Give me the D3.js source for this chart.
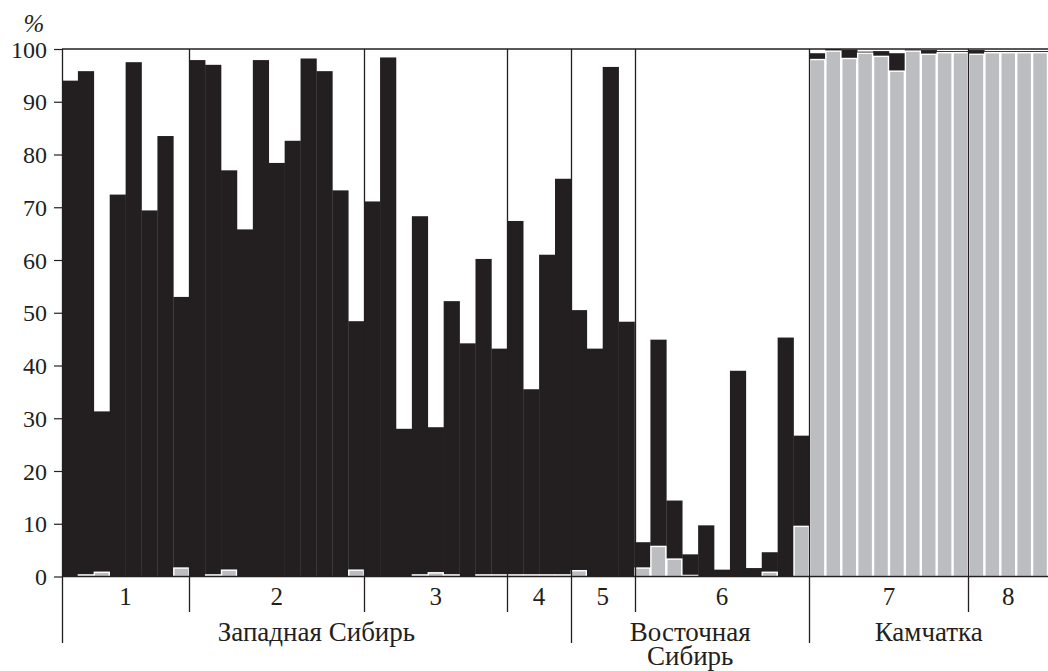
<!DOCTYPE html>
<html>
<head>
<meta charset="utf-8">
<script src="https://cdn.jsdelivr.net/npm/d3@7"></script>
<style>
  body { margin: 0; background: #fff; }
  text { font-family: "Liberation Serif", "DejaVu Serif", serif; fill: #231f20; }
</style>
</head>
<body>
<script>
// groups of samples
var groupNames = ["1", "2", "3", "4", "5", "6", "7", "8"];
var groupSizes = [8, 11, 9, 4, 4, 11, 10, 5];
// regions, as number of groups in each
var regionNames = [["Западная Сибирь"], ["Восточная", "Сибирь"], ["Камчатка"]];
var regionGroups = [4, 2, 2];

// gray share (bottom) and gray+black total, in %
var grayVals = [
  0, 0.3, 0.8, 0, 0, 0, 0, 1.6,
  0, 0.3, 1.2, 0, 0, 0, 0, 0, 0, 0, 1.2,
  0, 0, 0, 0.3, 0.7, 0.3, 0, 0.3, 0.3,
  0.3, 0.3, 0.3, 0.3,
  1.1, 0, 0, 0,
  1.6, 5.7, 3.3, 0.2, 0, 0, 0, 0, 0.8, 0, 9.5,
  98.0, 99.6, 98.2, 99.2, 98.6, 95.8, 99.6, 99.0, 99.3, 99.3,
  99.0, 99.3, 99.3, 99.3, 99.3
];
var totalVals = [
  94.0, 95.8, 31.3, 72.4, 97.5, 69.4, 83.5, 53.0,
  97.9, 97.0, 77.0, 65.8, 97.9, 78.4, 82.6, 98.2, 95.8, 73.2, 48.4,
  71.1, 98.4, 28.0, 68.3, 28.3, 52.2, 44.2, 60.2, 43.2,
  67.4, 35.5, 61.0, 75.4,
  50.5, 43.2, 96.6, 48.3,
  6.5, 44.9, 14.4, 4.2, 9.7, 1.3, 39.0, 1.6, 4.6, 45.3, 26.7,
  99.2, 100, 99.9, 99.5, 99.6, 99.2, 99.9, 99.8, 99.6, 99.6,
  99.8, 99.6, 99.6, 99.6, 99.6
];
var yTicks = [0, 10, 20, 30, 40, 50, 60, 70, 80, 90, 100];

var BLACK = "#231f20";
var GRAY = "#bcbdc0";

var width = 1048, height = 671;
var plotLeft = 62, plotRight = 1048, plotTop = 49, plotBottom = 576.5;
var groupLineEnd = 612, regionLineEnd = 643;

var svg = d3.select("body").append("svg")
  .attr("width", width)
  .attr("height", height);

var n = totalVals.length;
var x = d3.scaleBand().domain(d3.range(n)).range([plotLeft, plotRight]).padding(0);
var y = d3.scaleLinear().domain([0, 100]).range([plotBottom, plotTop]);

// black part of each bar
svg.append("g").selectAll("rect")
  .data(d3.range(n))
  .enter().append("rect")
  .attr("x", function (i) { return x(i); })
  .attr("width", x.bandwidth() + 0.3)
  .attr("y", function (i) { return y(totalVals[i]); })
  .attr("height", function (i) { return y(grayVals[i]) - y(totalVals[i]); })
  .attr("fill", BLACK);

// gray part, outlined in white
svg.append("g").selectAll("rect")
  .data(d3.range(n).filter(function (i) { return grayVals[i] > 0; }))
  .enter().append("rect")
  .attr("x", function (i) { return x(i) + 0.5; })
  .attr("width", x.bandwidth() - 1)
  .attr("y", function (i) { return y(grayVals[i]); })
  .attr("height", function (i) { return y(0) - y(grayVals[i]); })
  .attr("fill", GRAY)
  .attr("stroke", "#fff")
  .attr("stroke-width", 1.4);

// group boundaries
var bounds = [0];
groupSizes.forEach(function (s, i) { bounds.push(bounds[i] + s); });
var regionBounds = [0];
regionGroups.forEach(function (s, i) { regionBounds.push(regionBounds[i] + s); });

function bx(k) { return k >= n ? plotRight : x(k); }

svg.append("g").selectAll("line")
  .data(bounds.slice(1, -1))
  .enter().append("line")
  .attr("x1", function (k) { return Math.round(bx(k)) + 0.5; })
  .attr("x2", function (k) { return Math.round(bx(k)) + 0.5; })
  .attr("y1", plotTop)
  .attr("y2", function (k, i) {
    return regionBounds.indexOf(i + 1) >= 0 ? regionLineEnd : groupLineEnd;
  })
  .attr("stroke", BLACK)
  .attr("stroke-width", 1.3);

// frame
svg.append("line")
  .attr("x1", plotLeft).attr("x2", plotRight).attr("y1", plotTop).attr("y2", plotTop)
  .attr("stroke", BLACK).attr("stroke-width", 1.3);
svg.append("line")
  .attr("x1", plotLeft).attr("x2", plotRight).attr("y1", plotBottom).attr("y2", plotBottom)
  .attr("stroke", BLACK).attr("stroke-width", 1.3);
svg.append("line")
  .attr("x1", plotLeft + 0.5).attr("x2", plotLeft + 0.5).attr("y1", plotTop).attr("y2", regionLineEnd)
  .attr("stroke", BLACK).attr("stroke-width", 1.3);

// y axis
var yAxis = svg.append("g")
  .attr("transform", "translate(" + plotLeft + ",0)")
  .call(d3.axisLeft(y).tickValues(yTicks).tickSize(8).tickPadding(7));
yAxis.select(".domain").remove();
yAxis.selectAll("line").attr("stroke", BLACK).attr("stroke-width", 1.2);
yAxis.selectAll("text")
  .style("font-family", '"Liberation Serif", serif')
  .style("font-size", "24px")
  .attr("fill", BLACK)
  .attr("dy", "0.34em");

svg.append("text")
  .attr("x", 34).attr("y", 32)
  .attr("text-anchor", "middle")
  .style("font-size", "25px")
  .style("font-style", "italic")
  .text("%");

// group numbers
svg.append("g").selectAll("text")
  .data(groupNames)
  .enter().append("text")
  .attr("x", function (d, i) { return (bx(bounds[i]) + bx(bounds[i + 1])) / 2; })
  .attr("y", 605)
  .attr("text-anchor", "middle")
  .style("font-size", "25px")
  .text(function (d) { return d; });

// region labels
regionNames.forEach(function (lines, r) {
  var cx = (bx(bounds[regionBounds[r]]) + bx(bounds[regionBounds[r + 1]])) / 2;
  var t = svg.append("text")
    .attr("x", cx)
    .attr("y", 641)
    .attr("text-anchor", "middle")
    .style("font-size", "27px");
  lines.forEach(function (s, j) {
    t.append("tspan").attr("x", cx).attr("dy", j ? 24 : 0).text(s);
  });
});
</script>
</body>
</html>
